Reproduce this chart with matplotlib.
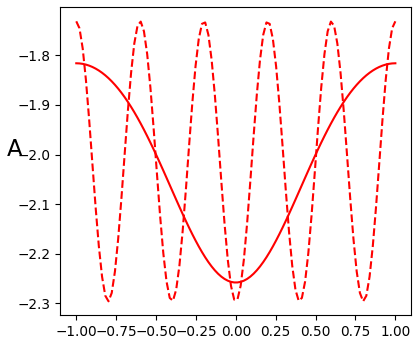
import matplotlib
matplotlib.use("Agg")
import matplotlib.pyplot as plt
import numpy as np

# curve coefficients: y = offset + sum(a_k * cos(k*pi*x))
x_range = [-1.0, 1.0]
n_samples = 100
solid_offset = -2.0185
solid_harmonics = [1, 2]
solid_amps = [-0.221, -0.0185]
dashed_offset = -2.0137
dashed_harmonics = [5]
dashed_amps = [-0.2823]


def series(x, offset, harmonics, amps):
    y = np.full_like(x, offset)
    for k, a in zip(harmonics, amps):
        y += a * np.cos(k * np.pi * x)
    return y


x = np.linspace(x_range[0], x_range[1], n_samples)
y_solid = series(x, solid_offset, solid_harmonics, solid_amps)
y_dashed = series(x, dashed_offset, dashed_harmonics, dashed_amps)

fig = plt.figure(figsize=(4.18, 3.45), dpi=100)
ax = fig.add_axes([0.1443, 0.0861, 0.8397, 0.8927])
ax.plot(x, y_solid, color="red", lw=1.5)
ax.plot(x, y_dashed, color="red", lw=1.5, ls="--")
ax.set_xticks([-1.0, -0.75, -0.5, -0.25, 0.0, 0.25, 0.5, 0.75, 1.0])
ax.set_yticks([-1.8, -1.9, -2.0, -2.1, -2.2, -2.3])
ax.tick_params(labelsize=9.8)
ax.set_ylabel("A", rotation=0, fontsize=16.5, labelpad=2)

fig.savefig("out.png", dpi=100)
